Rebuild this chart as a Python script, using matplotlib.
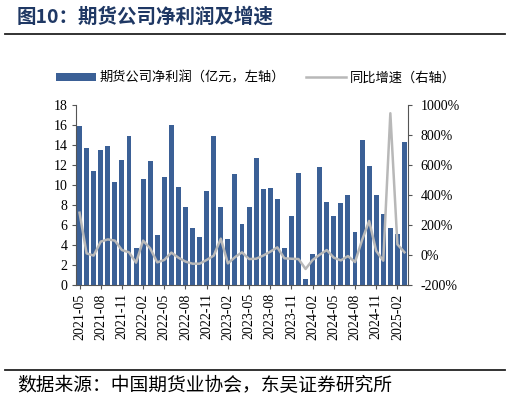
import matplotlib
matplotlib.use("Agg")
import matplotlib.pyplot as plt
from matplotlib.ticker import FuncFormatter

# 月份 2021-05 ~ 2025-03
months = [f"{y}-{m:02d}" for y in range(2021, 2026) for m in range(1, 13)]
months = months[months.index("2021-05"):months.index("2025-03") + 1]

profit = [15.9, 13.7, 11.4, 13.5, 13.9, 10.3, 12.5, 14.9,
          3.7, 10.6, 12.4, 5.0, 10.8, 16.0, 9.8, 7.8, 5.7, 4.8, 9.4, 14.9,
          7.8, 4.6, 11.1, 6.1, 7.8, 12.7, 9.6, 9.7, 8.6, 3.7, 6.9, 11.2,
          0.6, 3.1, 11.8, 8.3, 6.9, 8.2, 9.0, 5.3, 14.5, 11.9, 9.0, 7.1,
          5.7, 5.1, 14.3]

growth = [282, 11, -4, 89, 104, 96, 33, 18,
          -51, 96, 44, -49, -33, 16, -18, -44, -58, -58, -33, -4,
          109, -56, -15, 18, -27, -25, -4, 22, 51, -22, -25, -27,
          -93, -33, 2, 33, -18, -36, -7, -47, 100, 227, 27, -38,
          945, 71, 18]

tick_labels = months[::3]

cjk = ["Noto Sans CJK SC", "DejaVu Sans"]
num = ["Liberation Serif", "DejaVu Serif"]
bar_color = "#3b6096"
line_color = "#b8b8b8"

fig = plt.figure(figsize=(5.10, 4.03), dpi=100)

fig.text(17 / 510, 1 - 17 / 403, "图10：期货公司净利润及增速", family=cjk,
         fontsize=14, fontweight="bold", color="#1f3864", va="center")
fig.add_artist(plt.Line2D([5 / 510, 505 / 510], [1 - 34 / 403, 1 - 34 / 403],
                          color="#222222", lw=1.3))
fig.add_artist(plt.Line2D([5 / 510, 505 / 510], [1 - 370 / 403, 1 - 370 / 403],
                          color="#222222", lw=1.3))
fig.text(17 / 510, 1 - 386 / 403, "数据来源：中国期货业协会，东吴证券研究所",
         family=cjk, fontsize=13.5, color="black", va="center")

ax = fig.add_axes([76 / 510, 1 - 285 / 403, 332 / 510, 180 / 403])
x = list(range(len(months)))
bars = ax.bar(x, profit, width=0.7, color=bar_color)
ax.set_xlim(-0.5, len(months) - 0.5)
ax.set_ylim(0, 18)
ax.set_yticks(range(0, 19, 2))
ax.set_xticks(x[::3])
ax.set_xticklabels(tick_labels, rotation=90, family=num, fontsize=10)
for lab in ax.get_yticklabels():
    lab.set_family(num)
    lab.set_fontsize(10)
ax.tick_params(axis="both", length=3, width=0.8, color="#555555", pad=3)
for side in ["top", "right"]:
    ax.spines[side].set_visible(False)
ax.spines["left"].set_color("#555555")
ax.spines["bottom"].set_color("#555555")

ax2 = ax.twinx()
line, = ax2.plot(x, growth, color=line_color, lw=1.8)
ax2.set_ylim(-200, 1000)
ax2.set_yticks(range(-200, 1001, 200))
ax2.yaxis.set_major_formatter(FuncFormatter(lambda v, p: f"{int(v)}%"))
for lab in ax2.get_yticklabels():
    lab.set_family(num)
    lab.set_fontsize(10)
ax2.tick_params(axis="y", length=3, width=0.8, color="#555555", pad=6)
for side in ["top", "left", "bottom"]:
    ax2.spines[side].set_visible(False)
ax2.spines["right"].set_color("#555555")

fig.legend([bars, line], ["期货公司净利润（亿元，左轴）", "同比增速（右轴）"],
           loc="center", bbox_to_anchor=(256 / 510, 1 - 78 / 403), ncol=2, frameon=False,
           prop={"family": cjk, "size": 9.5}, handlelength=3.0, handleheight=0.6,
           columnspacing=1.6, handletextpad=0.3)

fig.savefig("out.png", dpi=100)
